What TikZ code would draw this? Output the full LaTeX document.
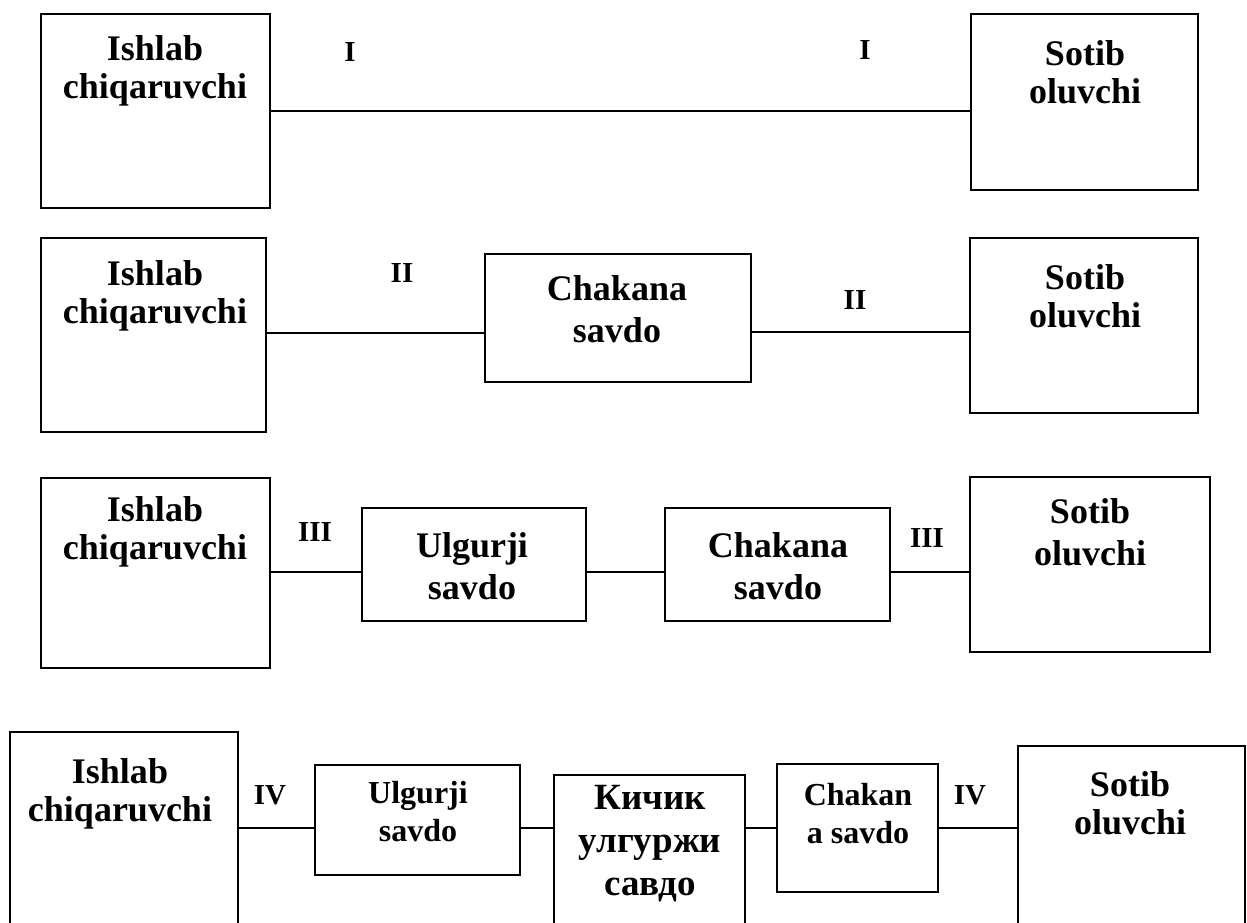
\documentclass[tikz,border=0pt]{standalone}
\usepackage{fontspec}
\setmainfont{Liberation Serif}
\usetikzlibrary{fit}
\begin{document}
\begin{tikzpicture}[x=1pt,y=-1pt,
  box/.style={draw, line width=1.5pt, inner sep=0pt},
  conn/.style={line width=1.5pt},
  txt/.style={align=center, inner sep=0pt, anchor=north, font=\fontsize{36}{38}\selectfont\bfseries},
  txtw/.style={txt, font=\fontsize{36}{42}\selectfont\bfseries},
  small/.style={align=center, inner sep=0pt, anchor=north, font=\fontsize{32}{38}\selectfont\bfseries},
  lvl/.style={inner sep=0pt, font=\fontsize{29}{30}\selectfont\bfseries}]
\useasboundingbox (0,0) rectangle (1247,922);

% Channel I: producer -> buyer
\node[box, fit={(41,14) (270,208)}] (a1) {};
\node[box, fit={(971,14) (1198,190)}] (b1) {};
\node[txt] (a1t) at (155,35) {Ishlab\\chiqaruvchi};
\node[txt] (b1t) at (1085,40) {Sotib\\oluvchi};
\node[lvl] (l1a) at (350,52) {I};
\node[lvl] (l1b) at (865,50) {I};
\draw[conn] (a1.east) -- (a1.east -| b1.west);

% Channel II: producer -> retail -> buyer
\node[box, fit={(41,238) (266,432)}] (a2) {};
\node[box, fit={(485,254) (751,382)}] (c2) {};
\node[box, fit={(970,238) (1198,413)}] (b2) {};
\node[txt] (a2t) at (155,260) {Ishlab\\chiqaruvchi};
\node[txtw] (c2t) at (617,275) {Chakana\\savdo};
\node[txt] (b2t) at (1085,264) {Sotib\\oluvchi};
\node[lvl] (l2a) at (402,273) {II};
\node[lvl] (l2b) at (855,300) {II};
\draw[conn] (a2.east |- 0,333) -- (c2.west |- 0,333);
\draw[conn] (c2.east |- 0,332) -- (b2.west |- 0,332);

% Channel III: producer -> wholesale -> retail -> buyer
\node[box, fit={(41,478) (270,668)}] (a3) {};
\node[box, fit={(362,508) (586,621)}] (u3) {};
\node[box, fit={(665,508) (890,621)}] (c3) {};
\node[box, fit={(970,477) (1210,652)}] (b3) {};
\node[txt] (a3t) at (155,496) {Ishlab\\chiqaruvchi};
\node[txtw] (u3t) at (472,532) {Ulgurji\\savdo};
\node[txtw] (c3t) at (778,532) {Chakana\\savdo};
\node[txtw] (b3t) at (1090,498) {Sotib\\oluvchi};
\node[lvl] (l3a) at (315,532) {III};
\node[lvl] (l3b) at (927,538) {III};
\draw[conn] (a3.east |- 0,572) -- (u3.west |- 0,572);
\draw[conn] (u3.east |- 0,572) -- (c3.west |- 0,572);
\draw[conn] (c3.east |- 0,572) -- (b3.west |- 0,572);

% Channel IV: producer -> wholesale -> small wholesale -> retail -> buyer
\node[box, fit={(10,732) (238,932)}] (a4) {};
\node[box, fit={(315,765) (520,875)}] (u4) {};
\node[box, fit={(554,775) (745,932)}] (k4) {};
\node[box, fit={(777,764) (938,892)}] (c4) {};
\node[box, fit={(1018,746) (1245,932)}] (b4) {};
\node[txt] (a4t) at (120,758) {Ishlab\\chiqaruvchi};
\node[small] (u4t) at (418,781) {Ulgurji\\savdo};
\node[txt, font=\fontsize{37}{43}\selectfont\bfseries] (k4t) at (650,785) {Кичик\\улгуржи\\савдо};
\node[small] (c4t) at (858,783) {Chakan\\a savdo};
\node[txt] (b4t) at (1130,771) {Sotib\\oluvchi};
\node[lvl] (l4a) at (270,795) {IV};
\node[lvl] (l4b) at (970,795) {IV};
\draw[conn] (a4.east |- 0,828) -- (u4.west |- 0,828);
\draw[conn] (u4.east |- 0,828) -- (k4.west |- 0,828);
\draw[conn] (k4.east |- 0,828) -- (c4.west |- 0,828);
\draw[conn] (c4.east |- 0,828) -- (b4.west |- 0,828);
\end{tikzpicture}
\end{document}
